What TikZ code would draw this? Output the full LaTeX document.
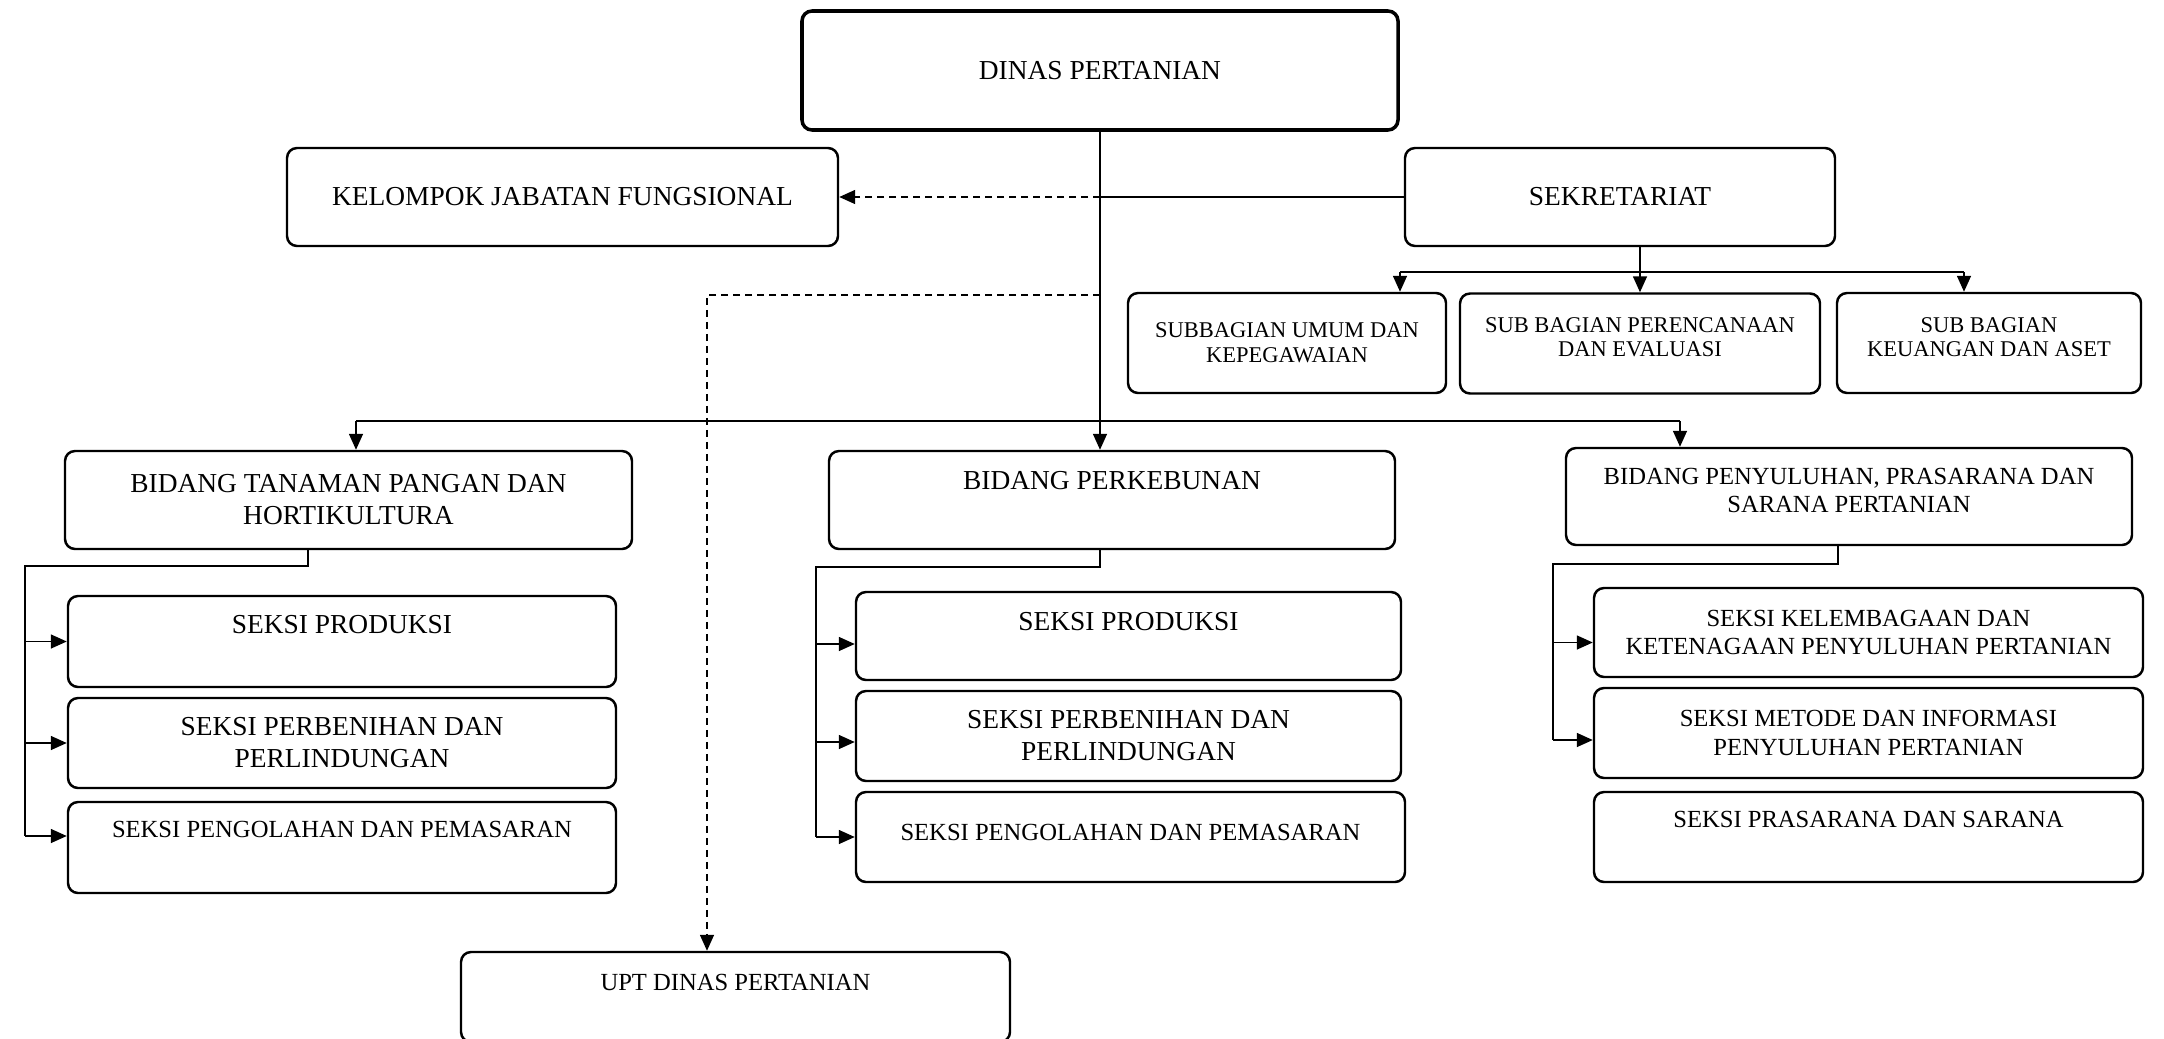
\documentclass[tikz,border=0pt]{standalone}
\usepackage{fontspec}
\setmainfont{Liberation Serif}
\usepackage{tikz}
\usetikzlibrary{arrows.meta, positioning, calc}
\newcommand{\orgmain}{\fontsize{7.8}{9.1}\selectfont}
\newcommand{\orgmid}{\fontsize{7.0}{8}\selectfont}
\newcommand{\orgsmall}{\fontsize{6.4}{7}\selectfont}
\tikzstyle{block} = [rectangle, draw, rounded corners=1mm, align=center, inner sep=0pt, line width=0.7pt, font=\orgmain]
\tikzstyle{arrow} = [line width=0.45pt, -{Triangle[length=1.6mm, width=1.4mm]}]
\tikzstyle{dasharrow} = [arrow, dash pattern=on 0.7mm off 0.5mm]
\tikzstyle{line} = [line width=0.45pt]
\tikzset{
  toptext/.style={text depth=#1},
  toptext/.default=0.34cm
}

\begin{document}
\begin{tikzpicture}
      \useasboundingbox (0,0) rectangle (21.64,-10.39);

      % Pimpinan dan sekretariat
      \node [block, line width=1pt, minimum width=5.96cm, minimum height=1.19cm] (dinas) at (11.0,-0.705) {DINAS PERTANIAN};
      \node [block, minimum width=5.51cm, minimum height=0.98cm] (kjf) at (5.625,-1.97) {KELOMPOK JABATAN FUNGSIONAL};
      \node [block, minimum width=4.30cm, minimum height=0.98cm] (sekr) at (16.20,-1.97) {SEKRETARIAT};

      % Subbagian
      \node [block, font=\orgsmall, minimum width=3.18cm, minimum height=1.0cm] (subumum) at (12.87,-3.43) {SUBBAGIAN UMUM DAN\\KEPEGAWAIAN};
      \node [block, font=\orgsmall, toptext=0.13cm, minimum width=3.60cm, minimum height=1.0cm] (subren) at (16.40,-3.435) {SUB BAGIAN PERENCANAAN\\DAN EVALUASI};
      \node [block, font=\orgsmall, toptext=0.12cm, minimum width=3.04cm, minimum height=1.0cm] (subkeu) at (19.89,-3.43) {SUB BAGIAN\\KEUANGAN DAN ASET};

      % Bidang
      \node [block, minimum width=5.67cm, minimum height=0.98cm] (btph) at (3.485,-5.00) {BIDANG TANAMAN PANGAN DAN\\HORTIKULTURA};
      \node [block, toptext=0.40cm, minimum width=5.66cm, minimum height=0.98cm] (bkebun) at (11.12,-5.00) {BIDANG PERKEBUNAN};
      \node [block, font=\orgmid, toptext=0.13cm, minimum width=5.66cm, minimum height=0.97cm] (bpenyu) at (18.49,-4.965) {BIDANG PENYULUHAN, PRASARANA DAN\\SARANA PERTANIAN};

      % Seksi bidang tanaman pangan
      \node [block, toptext, minimum width=5.48cm, minimum height=0.91cm] (lprod) at (3.42,-6.415) {SEKSI PRODUKSI};
      \node [block, minimum width=5.48cm, minimum height=0.90cm] (lbenih) at (3.42,-7.43) {SEKSI PERBENIHAN DAN\\PERLINDUNGAN};
      \node [block, font=\orgmid, toptext=0.36cm, minimum width=5.48cm, minimum height=0.91cm] (lolah) at (3.42,-8.475) {SEKSI PENGOLAHAN DAN PEMASARAN};

      % Seksi bidang perkebunan
      \node [block, toptext=0.30cm, minimum width=5.45cm, minimum height=0.88cm] (mprod) at (11.285,-6.36) {SEKSI PRODUKSI};
      \node [block, minimum width=5.45cm, minimum height=0.90cm] (mbenih) at (11.285,-7.36) {SEKSI PERBENIHAN DAN\\PERLINDUNGAN};
      \node [block, font=\orgmid, toptext=0.10cm, minimum width=5.49cm, minimum height=0.90cm] (molah) at (11.305,-8.37) {SEKSI PENGOLAHAN DAN PEMASARAN};

      % Seksi bidang penyuluhan
      \node [block, font=\orgmid, minimum width=5.49cm, minimum height=0.89cm] (rlemb) at (18.685,-6.325) {SEKSI KELEMBAGAAN DAN\\KETENAGAAN PENYULUHAN PERTANIAN};
      \node [block, font=\orgmid, minimum width=5.49cm, minimum height=0.90cm] (rmetode) at (18.685,-7.33) {SEKSI METODE DAN INFORMASI\\PENYULUHAN PERTANIAN};
      \node [block, font=\orgmid, toptext=0.36cm, minimum width=5.49cm, minimum height=0.90cm] (rsarana) at (18.685,-8.37) {SEKSI PRASARANA DAN SARANA};

      % UPT
      \node [block, font=\orgmid, toptext=0.30cm, minimum width=5.49cm, minimum height=0.90cm] (upt) at (7.355,-9.97) {UPT DINAS PERTANIAN};

      % Titik belok garis
      \coordinate (kjfjoint) at (11.0,-1.97);
      \coordinate (uptjoint) at (11.0,-2.95);
      \coordinate (barL) at (3.56,-4.21);
      \coordinate (barR) at (16.80,-4.21);
      \coordinate (sekbarL) at (14.00,-2.72);
      \coordinate (sekbarR) at (19.64,-2.72);
      \coordinate (lspine) at (0.25,-5.66);
      \coordinate (mspine) at (8.16,-5.67);
      \coordinate (rspine) at (15.53,-5.64);

      % Garis komando utama
      \draw [arrow] (dinas.south) -- (dinas.south |- bkebun.north);
      \draw [line] (barL) -- (barR);
      \draw [arrow] (barL) -- (barL |- btph.north);
      \draw [arrow] (barR) -- (barR |- bpenyu.north);

      % Garis koordinasi
      \draw [line] (sekr.west) -- (kjfjoint);
      \draw [dasharrow] (kjfjoint) -- (kjf.east);
      \draw [dasharrow] (uptjoint) -| ([xshift=-2.85mm]upt.north);

      % Sekretariat ke subbagian
      \draw [arrow] (sekr.south -| subren.north) -- (subren.north);
      \draw [line] (sekbarL) -- (sekbarR);
      \draw [arrow] (sekbarL) -- (sekbarL |- subumum.north);
      \draw [arrow] (sekbarR) -- (sekbarR |- subkeu.north);

      % Bidang ke seksi
      \draw [line] ([xshift=-4.05mm]btph.south) |- (lspine) -- (lspine |- 0,-8.36);
      \draw [arrow] (lspine |- lprod.west) -- (lprod.west);
      \draw [arrow] (lspine |- lbenih.west) -- (lbenih.west);
      \draw [arrow] ([yshift=1.15mm]lspine |- lolah.west) -- ([yshift=1.15mm]lolah.west);

      \draw [line] (bkebun.south -| dinas.south) |- (mspine) -- (mspine |- molah.west);
      \draw [arrow] ([yshift=-0.8mm]mspine |- mprod.west) -- ([yshift=-0.8mm]mprod.west);
      \draw [arrow] ([yshift=-0.6mm]mspine |- mbenih.west) -- ([yshift=-0.6mm]mbenih.west);
      \draw [arrow] (mspine |- molah.west) -- (molah.west);

      \draw [line] ([xshift=-1.1mm]bpenyu.south) |- (rspine) -- ([yshift=-0.7mm]rspine |- rmetode.west);
      \draw [arrow] ([yshift=-1mm]rspine |- rlemb.west) -- ([yshift=-1mm]rlemb.west);
      \draw [arrow] ([yshift=-0.7mm]rspine |- rmetode.west) -- ([yshift=-0.7mm]rmetode.west);
    \end{tikzpicture}
\end{document}
